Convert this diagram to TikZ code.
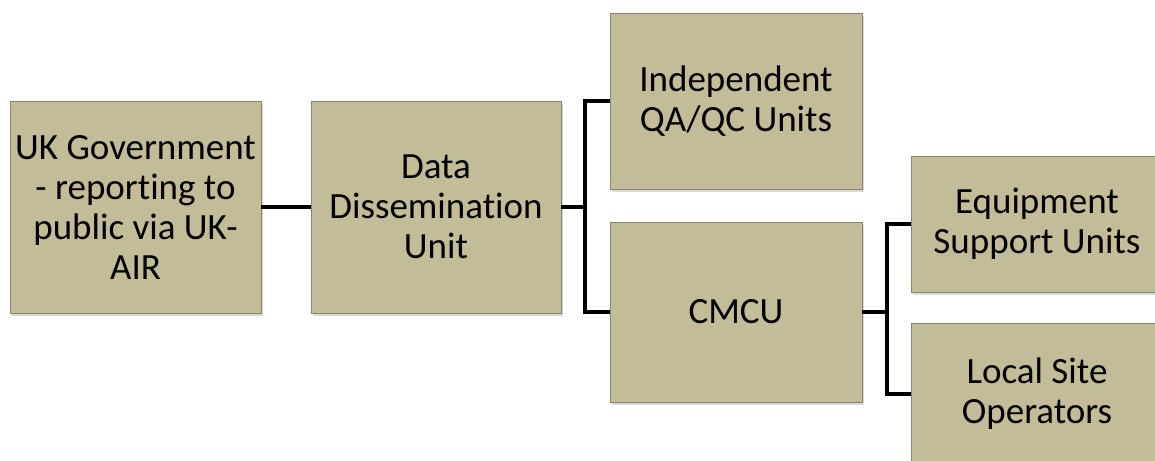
\documentclass[tikz,border=0pt]{standalone}
\usepackage{fontspec}
\setmainfont[Ligatures={NoCommon}]{Carlito}
\usetikzlibrary{shadows}
\definecolor{boxfill}{RGB}{195,188,152}
\definecolor{boxline}{RGB}{135,132,112}
\tikzset{
  unitbox/.style={draw=boxline, line width=0.8bp, fill=boxfill, inner sep=0pt,
    align=center, font=\fontsize{37bp}{40bp}\selectfont,
    drop shadow={opacity=0.3, shadow xshift=2bp, shadow yshift=-3bp}},
  link/.style={line width=4.5bp, black, line join=miter}
}
\begin{document}
\begin{tikzpicture}[x=1bp, y=-1bp]
\useasboundingbox[clip] (0,0) rectangle (1155,461);
\node[unitbox, minimum width=251bp, minimum height=212bp] (uk) at (135.5,207)
  {UK Government\\- reporting to\\public via UK-\\AIR};
\node[unitbox, minimum width=250bp, minimum height=212bp] (dd) at (436,207)
  {Data\\Dissemination\\Unit};
\node[unitbox, minimum width=252bp, minimum height=176bp] (qa) at (736,101)
  {Independent\\QA/QC Units};
\node[unitbox, minimum width=252bp, minimum height=180bp] (cmcu) at (736,312)
  {CMCU};
\node[unitbox, minimum width=252bp, minimum height=136bp] (eq) at (1037,224)
  {Equipment\\Support Units};
\node[unitbox, minimum width=252bp, minimum height=142bp] (ls) at (1037,394)
  {Local Site\\Operators};
\coordinate (b1) at (585,207);
\coordinate (b2) at (887,312);
\draw[link] (uk.east) -- (dd.west);
\draw[link] (dd.east) -- (b1);
\draw[link] (qa.west) -| (b1) |- (cmcu.west);
\draw[link] (cmcu.east) -- (b2);
\draw[link] (eq.west) -| (b2) |- (ls.west);
\end{tikzpicture}
\end{document}
